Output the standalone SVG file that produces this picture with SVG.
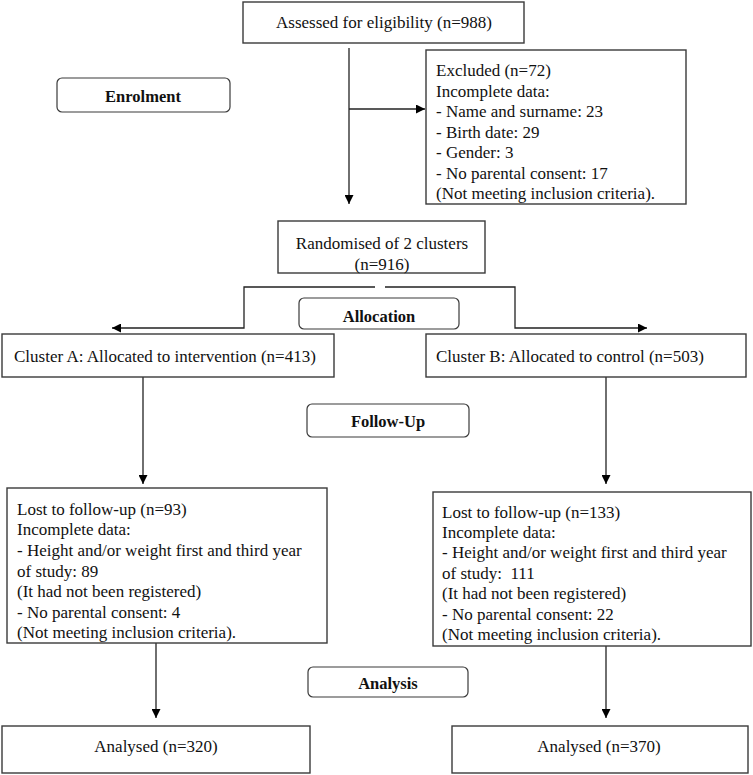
<svg xmlns="http://www.w3.org/2000/svg" width="753" height="775" viewBox="0 0 753 775">
<defs>
<marker id="ah" viewBox="0 0 10 10" refX="10" refY="5" markerWidth="9" markerHeight="9" markerUnits="userSpaceOnUse" orient="auto">
<path d="M0,0 L10,5 L0,10 Z" fill="#000"/>
</marker>
<style>
.box{fill:#fff;stroke:#3a3a3a;stroke-width:1.4}
.stage{fill:#fff;stroke:#3a3a3a;stroke-width:1.2}
.t{font-family:"Liberation Serif","Times New Roman",serif;font-size:17px;fill:#111}
.c{text-anchor:middle}
.b{font-family:"Liberation Serif","Times New Roman",serif;font-size:16.5px;font-weight:bold;fill:#111;text-anchor:middle}
.ln{fill:none;stroke:#222;stroke-width:1.3}
</style>
</defs>
<rect width="753" height="775" fill="#fff"/>

<g id="connectors">
<path class="ln" d="M349,48 V204" marker-end="url(#ah)"/>
<path class="ln" d="M349,109 H425" marker-end="url(#ah)"/>
<path class="ln" d="M375,287 H244 V328 H112" marker-end="url(#ah)"/>
<path class="ln" d="M385,287 H515 V328 H647" marker-end="url(#ah)"/>
<path class="ln" d="M143,377 V484" marker-end="url(#ah)"/>
<path class="ln" d="M606,377 V484" marker-end="url(#ah)"/>
<path class="ln" d="M156,643 V718" marker-end="url(#ah)"/>
<path class="ln" d="M606,646 V718" marker-end="url(#ah)"/>
</g>

<g id="assessed">
<rect class="box" x="243" y="2" width="281" height="41"/>
<text class="t c" x="384" y="28">Assessed for eligibility (n=988)</text>
</g>

<g id="enrolment">
<rect class="stage" x="57" y="78" width="173" height="34" rx="5"/>
<text class="b" x="143" y="102">Enrolment</text>
</g>

<g id="excluded">
<rect class="box" x="426" y="50" width="260" height="154"/>
<text class="t" x="436" y="76">Excluded (n=72)</text>
<text class="t" x="436" y="97">Incomplete data:</text>
<text class="t" x="436" y="117">- Name and surname: 23</text>
<text class="t" x="436" y="138">- Birth date: 29</text>
<text class="t" x="436" y="158">- Gender: 3</text>
<text class="t" x="436" y="179">- No parental consent: 17</text>
<text class="t" x="436" y="199">(Not meeting inclusion criteria).</text>
</g>

<g id="randomised">
<rect class="box" x="278" y="221" width="207" height="52"/>
<text class="t c" x="382" y="249">Randomised of 2 clusters</text>
<text class="t c" x="382" y="270">(n=916)</text>
</g>

<g id="allocation">
<rect class="stage" x="299" y="298" width="160" height="31" rx="5"/>
<text class="b" x="379" y="322">Allocation</text>
</g>

<g id="clusterA">
<rect class="box" x="2" y="334" width="332" height="43"/>
<text class="t" x="14" y="362">Cluster A: Allocated to intervention (n=413)</text>
</g>

<g id="clusterB">
<rect class="box" x="426" y="334" width="320" height="43"/>
<text class="t" x="436" y="362">Cluster B: Allocated to control (n=503)</text>
</g>

<g id="followup">
<rect class="stage" x="307" y="404" width="162" height="33" rx="5"/>
<text class="b" x="388" y="427">Follow-Up</text>
</g>

<g id="lostA">
<rect class="box" x="7" y="488" width="320" height="155"/>
<text class="t" x="17" y="515">Lost to follow-up (n=93)</text>
<text class="t" x="17" y="535">Incomplete data:</text>
<text class="t" x="17" y="556">- Height and/or weight first and third year</text>
<text class="t" x="17" y="577">of study: 89</text>
<text class="t" x="17" y="597">(It had not been registered)</text>
<text class="t" x="17" y="618">- No parental consent: 4</text>
<text class="t" x="17" y="638">(Not meeting inclusion criteria).</text>
</g>

<g id="lostB">
<rect class="box" x="433" y="492" width="318" height="154"/>
<text class="t" x="442" y="518">Lost to follow-up (n=133)</text>
<text class="t" x="442" y="538">Incomplete data:</text>
<text class="t" x="442" y="558">- Height and/or weight first and third year</text>
<text class="t" x="442" y="579" xml:space="preserve">of study:  111</text>
<text class="t" x="442" y="599">(It had not been registered)</text>
<text class="t" x="442" y="620">- No parental consent: 22</text>
<text class="t" x="442" y="640">(Not meeting inclusion criteria).</text>
</g>

<g id="analysis">
<rect class="stage" x="308" y="667" width="160" height="30" rx="5"/>
<text class="b" x="388" y="689">Analysis</text>
</g>

<g id="analysedA">
<rect class="box" x="2" y="726" width="308" height="47"/>
<text class="t c" x="156" y="752">Analysed (n=320)</text>
</g>

<g id="analysedB">
<rect class="box" x="452" y="726" width="296" height="47"/>
<text class="t c" x="599" y="752">Analysed (n=370)</text>
</g>
</svg>
